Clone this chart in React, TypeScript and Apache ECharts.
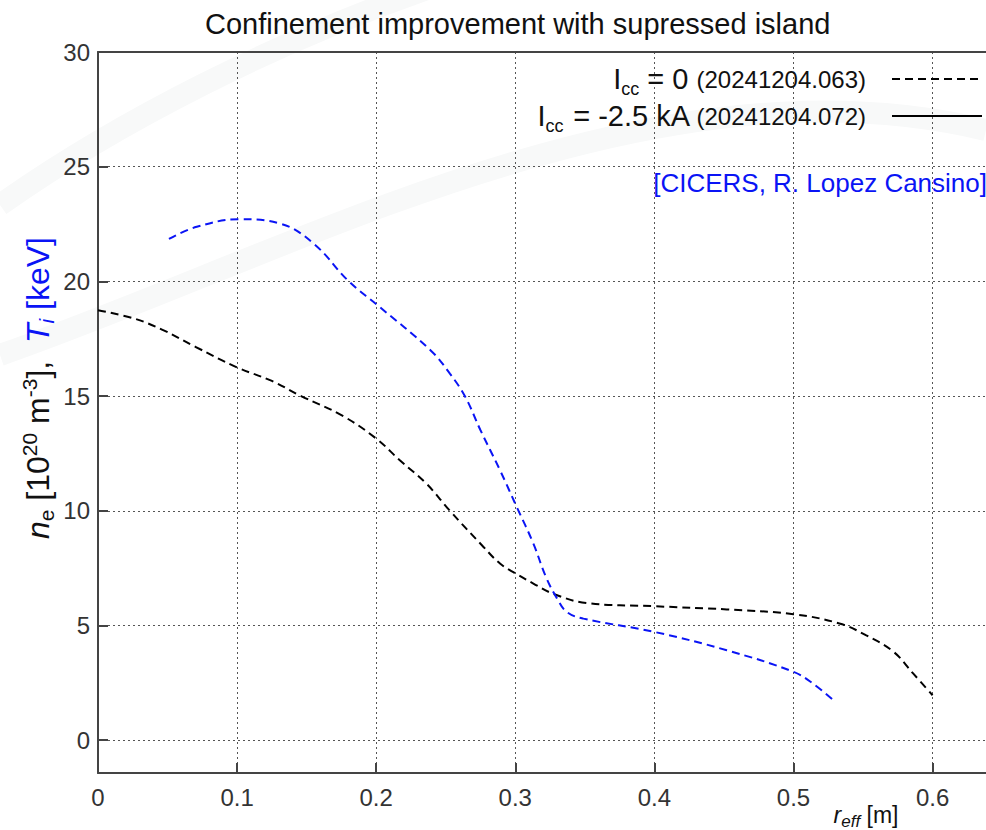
import React, { useEffect, useRef } from 'react';
import * as echarts from 'echarts';

// r_eff [m] and n_e [10^20 m^-3] for Icc = 0 (20241204.063)
const neR = [0, 0.026, 0.046, 0.07, 0.1, 0.125, 0.146, 0.175, 0.2, 0.217, 0.236, 0.253, 0.276, 0.289, 0.301, 0.313, 0.327, 0.351, 0.4, 0.452, 0.5, 0.533, 0.552, 0.572, 0.586, 0.6];
const neV = [18.74, 18.38, 17.9, 17.15, 16.25, 15.66, 15.0, 14.17, 13.15, 12.2, 11.19, 10.0, 8.5, 7.7, 7.24, 6.83, 6.39, 5.98, 5.84, 5.7, 5.49, 5.09, 4.58, 3.85, 2.91, 1.96];

// r_eff [m] and T_i [keV] (CICERS)
const tiR = [0.051, 0.071, 0.102, 0.131, 0.155, 0.18, 0.201, 0.239, 0.253, 0.264, 0.275, 0.289, 0.301, 0.313, 0.322, 0.33, 0.337, 0.349, 0.4, 0.452, 0.5, 0.514, 0.53];
const tiV = [21.85, 22.38, 22.71, 22.52, 21.65, 20.02, 18.96, 17.0, 15.98, 14.97, 13.51, 11.77, 10.17, 8.57, 7.12, 6.18, 5.59, 5.3, 4.72, 3.92, 2.98, 2.47, 1.67];

// solid-line shot (Icc = -2.5 kA) has no visible profile in the figure
const solidR: number[] = [];
const solidV: number[] = [];

const legendNames = ['Icc0', 'Icc25'];
const titleText = 'Confinement improvement with supressed island';
const creditText = '[CICERS, R. Lopez Cansino]';

const FONT = '"Liberation Sans", Arial, Helvetica, sans-serif';
const BLUE = '#0a14f5';

const zip = (a: number[], b: number[]) => a.map((v, i) => [v, b[i]]);

const X_MAX = 0.6384;
const Y_MIN = -1.43;

export default function App() {
  const ref = useRef<HTMLDivElement>(null);
  useEffect(() => {
    const chart = echarts.init(ref.current!, null, { renderer: 'svg' });
    const gridLine = { show: true, showMinLine: false, showMaxLine: false, lineStyle: { type: [2, 3], color: '#555', width: 1 } };
    const option: any = {
      animation: false,
      backgroundColor: '#fff',
      title: {
        text: titleText,
        left: 205,
        top: 9,
        padding: 0,
        textStyle: { fontSize: 29, fontWeight: 'normal', color: '#111', fontFamily: FONT },
      },
      grid: { left: 98, right: 0, top: 52, bottom: 57, containLabel: false },
      xAxis: [
        {
          type: 'value',
          min: 0,
          max: X_MAX,
          interval: 0.1,
          position: 'bottom',
          axisLine: { onZero: false, lineStyle: { color: '#444', width: 2 } },
          axisTick: { inside: true, length: 10, lineStyle: { color: '#444', width: 2 } },
          axisLabel: {
            fontSize: 24, color: '#333', fontFamily: FONT, margin: 12, showMaxLabel: false,
            formatter: (v: number) => (Math.abs(v) < 1e-9 ? '0' : v.toFixed(1)),
          },
          splitLine: gridLine,
        },
        {
          type: 'value',
          min: 0,
          max: X_MAX,
          position: 'top',
          axisLine: { onZero: false, lineStyle: { color: '#444', width: 2 } },
          axisTick: { show: false },
          axisLabel: { show: false },
          splitLine: { show: false },
        },
      ],
      yAxis: {
        type: 'value',
        min: Y_MIN,
        max: 30,
        splitNumber: 6,
        axisLine: { show: true, onZero: false, lineStyle: { color: '#444', width: 2 } },
        axisTick: { show: true, inside: true, length: 10, lineStyle: { color: '#444', width: 2 } },
        axisLabel: {
          fontSize: 24, color: '#333', fontFamily: FONT, margin: 8, showMinLabel: false,
          formatter: (v: number) => String(Math.round(v)),
        },
        splitLine: gridLine,
      },
      legend: {
        data: legendNames,
        orient: 'vertical',
        right: 3,
        top: 60,
        padding: 0,
        align: 'right',
        itemWidth: 90,
        itemHeight: 20,
        itemGap: -1,
        selectedMode: false,
        itemStyle: { color: 'rgba(0,0,0,0)', borderWidth: 0, opacity: 0 },
        formatter: (name: string) =>
          name === 'Icc0'
            ? '{m|I}{s|cc}{m| = 0 }{p|(20241204.063)}'
            : '{m|I}{s|cc}{m| = -2.5 kA }{p|(20241204.072)}',
        textStyle: {
          fontFamily: FONT,
          color: '#111',
          rich: {
            m: { fontSize: 29, lineHeight: 30, color: '#111', fontFamily: FONT },
            s: { fontSize: 18, lineHeight: 30, color: '#111', fontFamily: FONT, padding: [20, 0, 0, 0] },
            p: { fontSize: 24, lineHeight: 30, color: '#111', fontFamily: FONT, padding: [0, 21, 0, 0] },
          },
        },
      },
      graphic: [
        {
          type: 'bezierCurve',
          z: -10,
          silent: true,
          shape: { x1: 0, y1: 355, cpx1: 300, cpy1: 250, cpx2: 650, cpy2: 50, x2: 986, y2: 130 },
          style: { stroke: '#f8f9f9', lineWidth: 22, fill: 'none' },
        },
        {
          type: 'bezierCurve',
          z: -10,
          silent: true,
          shape: { x1: 0, y1: 205, cpx1: 120, cpy1: 120, cpx2: 280, cpy2: 40, x2: 430, y2: -12 },
          style: { stroke: '#f8f9f9', lineWidth: 22, fill: 'none' },
        },
        {
          type: 'text',
          x: 987,
          y: 183,
          style: {
            text: creditText,
            fontSize: 26,
            fontFamily: FONT,
            fill: BLUE,
            align: 'right',
            verticalAlign: 'middle',
          },
        },
        {
          type: 'text',
          x: 38,
          y: 388,
          rotation: Math.PI / 2,
          style: {
            text: '{n|n}{e|e}{m| [10}{sup|20}{m| m}{sup|-3}{m|],  }{t|T}{ti|i}{b| [keV]}',
            align: 'center',
            verticalAlign: 'middle',
            fontFamily: FONT,
            rich: {
              n: { fontSize: 32, lineHeight: 36, fontStyle: 'italic', fill: '#111', fontFamily: FONT },
              e: { fontSize: 21, lineHeight: 36, fill: '#111', fontFamily: FONT, padding: [16, 0, 0, 0] },
              m: { fontSize: 32, lineHeight: 36, fill: '#111', fontFamily: FONT },
              sup: { fontSize: 21, lineHeight: 36, fill: '#111', fontFamily: FONT, padding: [0, 0, 18, 0] },
              t: { fontSize: 32, lineHeight: 36, fontStyle: 'italic', fill: BLUE, fontFamily: FONT },
              ti: { fontSize: 21, lineHeight: 36, fontStyle: 'italic', fill: BLUE, fontFamily: FONT, padding: [16, 0, 0, 0] },
              b: { fontSize: 32, lineHeight: 36, fill: BLUE, fontFamily: FONT },
            },
          },
        },
        {
          type: 'text',
          x: 866,
          y: 815,
          style: {
            text: '{r|r}{s|eff}{m| [m]}',
            align: 'center',
            verticalAlign: 'middle',
            fontFamily: FONT,
            rich: {
              r: { fontSize: 23, lineHeight: 26, fontStyle: 'italic', fill: '#111', fontFamily: FONT },
              s: { fontSize: 17, lineHeight: 26, fontStyle: 'italic', fill: '#111', fontFamily: FONT, padding: [12, 0, 0, 0] },
              m: { fontSize: 23, lineHeight: 26, fill: '#111', fontFamily: FONT },
            },
          },
        },
      ],
      series: [
        {
          name: 'Icc0',
          type: 'line',
          data: zip(neR, neV),
          smooth: 0.4,
          symbol: 'none',
          lineStyle: { color: '#000', width: 2, type: [8, 5] },
          itemStyle: { color: '#000' },
          z: 3,
        },
        {
          name: 'Icc25',
          type: 'line',
          data: zip(solidR, solidV),
          symbol: 'none',
          lineStyle: { color: '#000', width: 2, type: 'solid' },
          itemStyle: { color: '#000' },
        },
        {
          name: 'Ti',
          type: 'line',
          data: zip(tiR, tiV),
          smooth: 0.4,
          symbol: 'none',
          lineStyle: { color: BLUE, width: 2, type: [8, 5] },
          itemStyle: { color: BLUE },
          z: 3,
        },
      ],
    };
    chart.setOption(option);
    return () => chart.dispose();
  }, []);
  return <div ref={ref} style={{ position: 'absolute', left: 0, top: 0, width: 986, height: 830 }} />;
}
